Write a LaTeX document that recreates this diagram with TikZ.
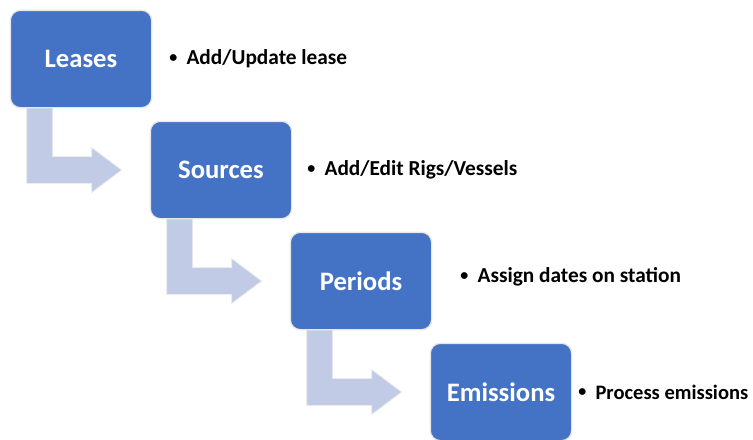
\documentclass[tikz,border=0pt]{standalone}
\usepackage{fontspec}
\setmainfont{Carlito}
\usetikzlibrary{calc,backgrounds}
\definecolor{boxblue}{RGB}{68,114,196}
\definecolor{flowblue}{RGB}{194,203,230}
\newcommand{\notebullet}{\raisebox{1.8pt}{\fontsize{12}{12}\selectfont\textbullet}\hspace{7pt}}
\tikzset{
  stage/.style={rectangle,rounded corners=7.5pt,fill=boxblue,draw=white!82!gray,line width=1pt,
    minimum width=106pt,minimum height=73pt,text=white,font=\bfseries\fontsize{20}{24}\selectfont},
  note/.style={anchor=west,inner sep=0pt,font=\bfseries\fontsize{16}{19}\selectfont},
  flow/.style={fill=flowblue,draw=white!85!gray,line width=0.6pt}
}
\begin{document}
\begin{tikzpicture}[x=0.75pt,y=-0.75pt]
\useasboundingbox (0,0) rectangle (753,439);
% stages
\node[stage] (leases) at (81,59) {Leases};
\node[stage] (sources) at ($(leases)+(140,111)$) {Sources};
\node[stage] (periods) at ($(sources)+(140,111)$) {Periods};
\node[stage] (emissions) at ($(periods)+(140,111)$) {Emissions};
% bent arrows
\begin{scope}[on background layer]
\filldraw[flow] ($(leases.south west)+(17,-1)$) |- ($(sources.west)+(-58,13.5)$) -- ++(0,9)
  -- ($(sources.west)+(-28,0)$) -- ++(-30,-22.5) -- ++(0,9) -| ($(leases.south west)+(43,-1)$) -- cycle;
\filldraw[flow] ($(sources.south west)+(17,-1)$) |- ($(periods.west)+(-58,13.5)$) -- ++(0,9)
  -- ($(periods.west)+(-28,0)$) -- ++(-30,-22.5) -- ++(0,9) -| ($(sources.south west)+(43,-1)$) -- cycle;
\filldraw[flow] ($(periods.south west)+(17,-1)$) |- ($(emissions.west)+(-58,13.5)$) -- ++(0,9)
  -- ($(emissions.west)+(-28,0)$) -- ++(-30,-22.5) -- ++(0,9) -| ($(periods.south west)+(43,-1)$) -- cycle;
\end{scope}
% notes
\node[note] (leasesnote) at (169,59) {\notebullet Add/Update lease};
\node[note] (sourcesnote) at (307,170) {\notebullet Add/Edit Rigs/Vessels};
\node[note] (periodsnote) at (460,277) {\notebullet Assign dates on station};
\node[note,font=\bfseries\fontsize{15.4}{18}\selectfont] (emissionsnote) at (578,392) {\notebullet Process emissions};
\end{tikzpicture}
\end{document}
